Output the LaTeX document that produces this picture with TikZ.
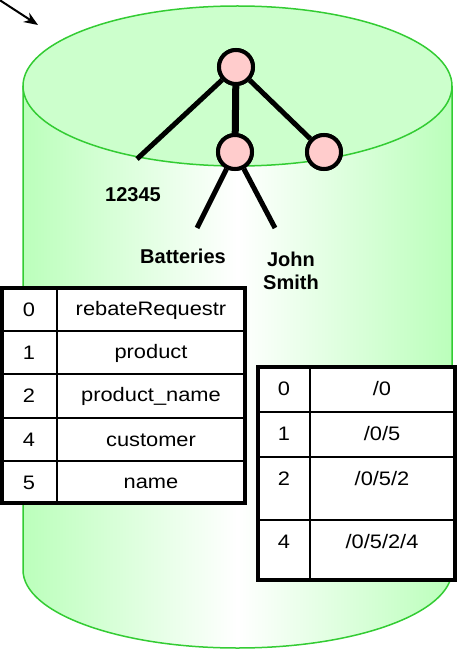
\documentclass[tikz,border=0pt]{standalone}
\usepackage{fontspec}
\setmainfont{Liberation Sans}
\newfontfamily\cellfont[FakeStretch=1.12]{Liberation Sans}
\usetikzlibrary{arrows.meta,positioning}

\definecolor{dbgreen}{HTML}{33CC33}
\definecolor{dbtop}{HTML}{CCFFCC}
\definecolor{dbside}{HTML}{BBFFBB}
\definecolor{nodepink}{HTML}{FFCCCC}

\tikzset{
  treenode/.style={circle, draw=black, line width=4pt, fill=nodepink, minimum size=34pt, inner sep=0pt},
  branch/.style={line width=5pt},
  leaflabel/.style={font=\fontsize{20}{23}\selectfont\bfseries, align=center},
  cell/.style={font=\cellfont\fontsize{19.5}{22}\selectfont, anchor=center},
  tableframe/.style={line width=4pt, fill=white},
  tablerule/.style={line width=2pt}
}

\begin{document}
\begin{tikzpicture}[x=1pt, y=-1pt, >=Stealth]
    \useasboundingbox (0,0) rectangle (460,652);

    % incoming arrow
    \coordinate (arrowtail) at (-2,-1);
    \coordinate (arrowhead) at (38,25);
    \draw[->, line width=2pt, arrows={-Stealth[length=14pt, width=11pt]}] (arrowtail) -- (arrowhead);

    % database cylinder
    \shade[left color=dbside, right color=dbside, middle color=white]
      (23,86) -- (23,570) arc[start angle=180, end angle=360, x radius=214.5pt, y radius=78pt]
      -- (452,86) -- cycle;
    \draw[dbgreen, line width=1.5pt] (23,86) -- (23,570)
      arc[start angle=180, end angle=360, x radius=214.5pt, y radius=78pt] -- (452,86);
    \draw[dbgreen, line width=1.5pt, fill=dbtop] (237.5,86) ellipse [x radius=214.5pt, y radius=80pt];

    % tree
    \node[treenode] (root) at (236,67) {};
    \node[treenode] (product) at (235,152) {};
    \node[treenode] (customer) at (324,152) {};
    \coordinate (idleaf) at (137,159);
    \coordinate (nameleaf) at (197,228);
    \coordinate (custleaf) at (275,228);
    \draw[branch] (root) -- (idleaf);
    \draw[line width=7pt] (root) -- (product);
    \draw[branch] (root) -- (customer);
    \draw[branch] (product) -- (nameleaf);
    \draw[branch] (product) -- (custleaf);
    \node[treenode] at (root) {};
    \node[treenode] at (product) {};
    \node[treenode] at (customer) {};

    \node[leaflabel] (idtext) at (133,195) {12345};
    \node[leaflabel] (nametext) at (183,256) {Batteries};
    \node[leaflabel] (custtext) at (291,271) {John\\Smith};

    % name table
    \draw[tableframe] (2,288) rectangle (245,503);
    \draw[tablerule] (57,288) -- (57,503);
    \foreach \y in {331,374,418,461}
      \draw[tablerule] (2,\y) -- (245,\y);
    \foreach \y/\id/\name in {288/0/rebateRequestr, 331/1/product, 374/2/product\_name, 418/4/customer, 461/5/name} {
      \node[cell] (nid\id) at (29,\y+22) {\id};
      \node[cell] (nname\id) at (151,\y+22) {\name};
    }

    % path table
    \draw[tableframe] (258,367) rectangle (455,580);
    \draw[tablerule] (310,367) -- (310,580);
    \foreach \y in {412,457,520}
      \draw[tablerule] (258,\y) -- (455,\y);
    \foreach \y/\id/\nodepath in {367/0/{/0}, 412/1/{/0/5}, 457/2/{/0/5/2}, 520/4/{/0/5/2/4}} {
      \node[cell] (pid\id) at (284,\y+22) {\id};
      \node[cell] (ppath\id) at (382,\y+22) {\nodepath};
    }
\end{tikzpicture}
\end{document}
